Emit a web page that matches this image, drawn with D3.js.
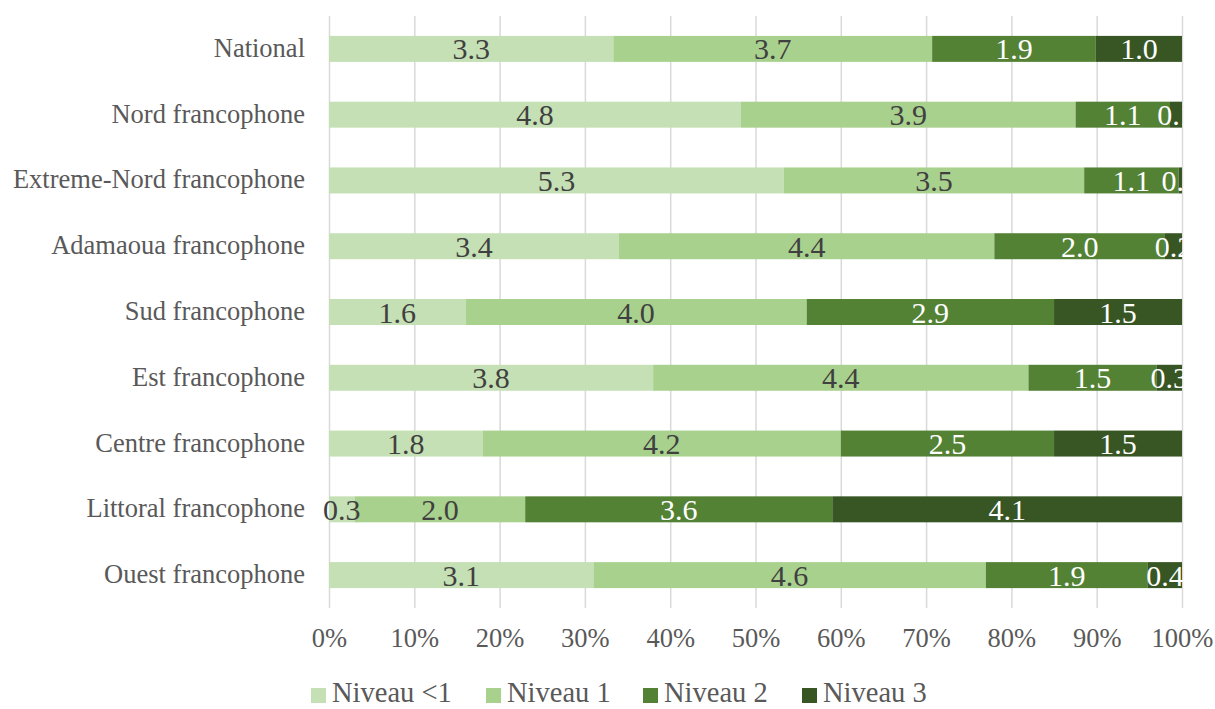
<!DOCTYPE html>
<html>
<head>
<meta charset="utf-8">
<script src="https://cdn.jsdelivr.net/npm/d3@7"></script>
<style>
  body { margin: 0; background: #fff; }
  svg { display: block; }
  text { font-family: "Liberation Serif", "Times New Roman", serif; }
</style>
</head>
<body>
<svg id="chart" width="1215" height="709"></svg>
<script>
const categories = ["National", "Nord francophone", "Extreme-Nord francophone", "Adamaoua francophone",
  "Sud francophone", "Est francophone", "Centre francophone", "Littoral francophone", "Ouest francophone"];
const seriesNames = ["Niveau <1", "Niveau 1", "Niveau 2", "Niveau 3"];
const niveauLt1 = [3.3, 4.8, 5.3, 3.4, 1.6, 3.8, 1.8, 0.3, 3.1];
const niveau1   = [3.7, 3.9, 3.5, 4.4, 4.0, 4.4, 4.2, 2.0, 4.6];
const niveau2   = [1.9, 1.1, 1.1, 2.0, 2.9, 1.5, 2.5, 3.6, 1.9];
const niveau3   = [1.0, 0.14, 0.04, 0.2, 1.5, 0.3, 1.5, 4.1, 0.4];
const tickValues = [0, 0.1, 0.2, 0.3, 0.4, 0.5, 0.6, 0.7, 0.8, 0.9, 1.0];
const colors = ["#C5E0B4", "#A9D18E", "#548235", "#375623"];
const labelColors = ["#404040", "#404040", "#ffffff", "#ffffff"];

(function () {
const svg = d3.select("#chart");
const pL = 329, pR = 1182, pT = 16, pB = 608;

const x = d3.scaleLinear().domain([0, 1]).range([pL, pR]);
const y = d3.scaleBand().domain(categories).range([pT, pB]).paddingInner(0.605).paddingOuter(0.3025);

const rows = categories.map((c, i) => ({cat: c, vals: [niveauLt1[i], niveau1[i], niveau2[i], niveau3[i]]}));
const stackData = rows.map(r => {
  const o = {cat: r.cat};
  const tot = d3.sum(r.vals);
  seriesNames.forEach((s, k) => o[s] = r.vals[k] / tot);
  return o;
});
const stacked = d3.stack().keys(seriesNames)(stackData);

svg.append("defs").append("clipPath").attr("id", "plotclip")
  .append("rect").attr("x", 300).attr("y", pT).attr("width", pR - 300 + 1).attr("height", pB - pT);

const axis = d3.axisBottom(x).tickValues(tickValues).tickFormat(d3.format(".0%")).tickSize(-(pB - pT)).tickPadding(20);
const gAxis = svg.append("g").attr("transform", `translate(0,${pB})`).call(axis);
gAxis.select(".domain").remove();
gAxis.selectAll(".tick line").attr("stroke", "#d9d9d9").attr("stroke-width", 1.5);
gAxis.selectAll(".tick text").attr("fill", "#595959").attr("font-size", 26.5)
  .attr("y", 39).attr("dy", null)
  .attr("font-family", "Liberation Serif, serif");

const g = svg.append("g").attr("clip-path", "url(#plotclip)");
stacked.forEach((layer, k) => {
  g.selectAll(null).data(layer).join("rect")
    .attr("x", d => x(d[0]))
    .attr("y", d => y(d.data.cat))
    .attr("width", d => x(d[1]) - x(d[0]))
    .attr("height", y.bandwidth())
    .attr("fill", colors[k]);
});
stacked.forEach((layer, k) => {
  g.selectAll(null).data(layer).join("text")
    .attr("x", d => (x(d[0]) + x(d[1])) / 2)
    .attr("y", d => y(d.data.cat) + y.bandwidth() / 2)
    .attr("dy", "0.35em")
    .attr("text-anchor", "middle")
    .attr("font-size", 30)
    .attr("fill", labelColors[k])
    .text((d, i) => d3.format(".1f")(rows[i].vals[k]));
});

svg.selectAll(".cat").data(categories).join("text")
  .attr("class", "cat")
  .attr("x", 305)
  .attr("y", d => y(d) + y.bandwidth() / 2)
  .attr("dy", "0.3em")
  .attr("text-anchor", "end")
  .attr("font-size", 26.5)
  .attr("fill", "#595959")
  .text(d => d);

const legendX = [311, 486, 643, 802];
const lg = svg.append("g");
seriesNames.forEach((s, k) => {
  lg.append("rect").attr("x", legendX[k]).attr("y", 688).attr("width", 15).attr("height", 15).attr("fill", colors[k]);
  lg.append("text").attr("x", legendX[k] + 21).attr("y", 702)
    .attr("font-size", 28.5).attr("fill", "#595959").text(s);
});
})();
</script>
</body>
</html>
